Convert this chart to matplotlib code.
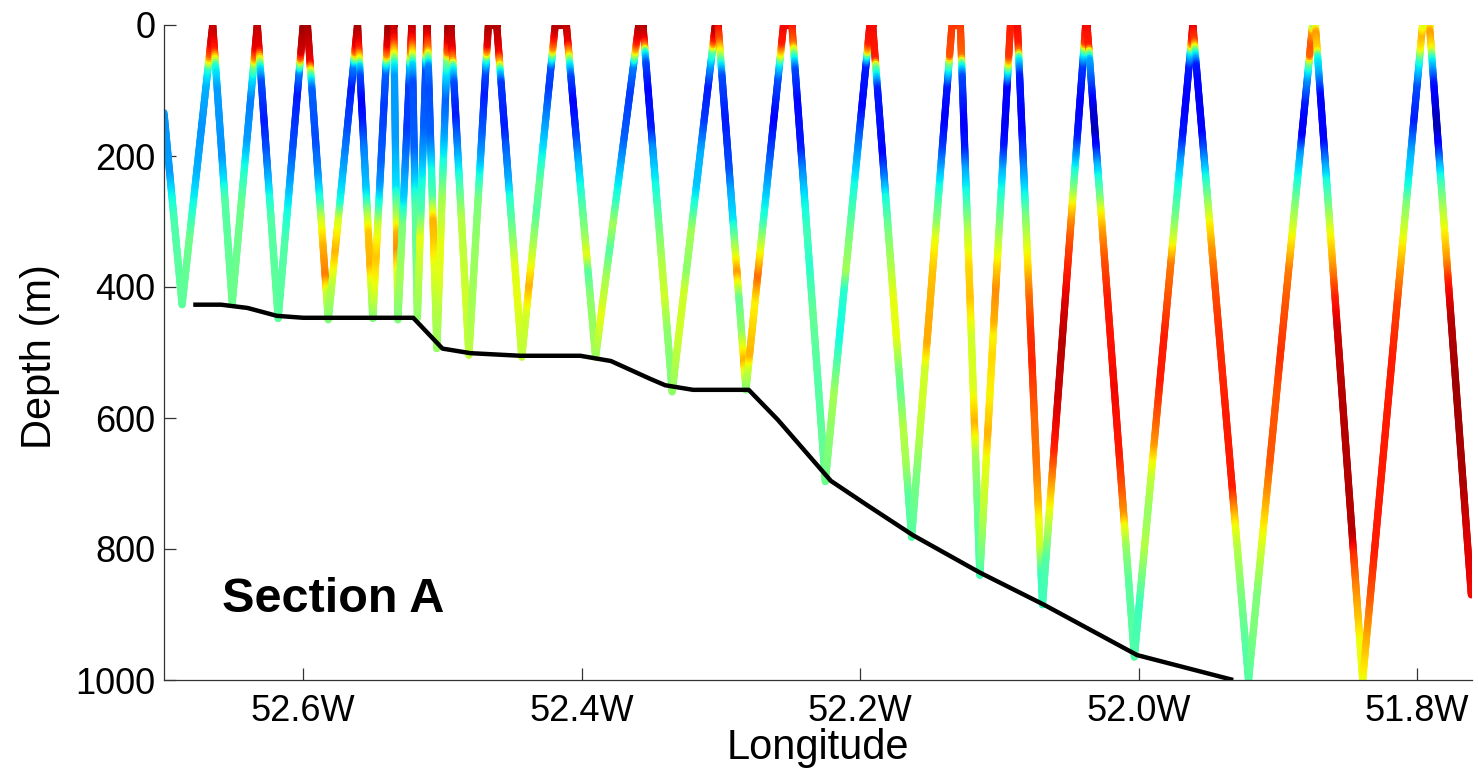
import numpy as np
import matplotlib
matplotlib.use("Agg")
import matplotlib.pyplot as plt
from matplotlib.collections import LineCollection
from matplotlib.colors import Normalize
from matplotlib.patches import Rectangle

# ---------------- data ----------------
# glider path turning points (longitude in degrees east, depth in m)
path_lon = [-52.700, -52.687, -52.665, -52.651, -52.633, -52.618, -52.600, -52.597,
            -52.582, -52.561, -52.550, -52.539, -52.535, -52.532, -52.522, -52.518,
            -52.511, -52.504, -52.496, -52.494, -52.481, -52.467, -52.461, -52.443,
            -52.419, -52.411, -52.390, -52.359, -52.356, -52.335, -52.304, -52.302,
            -52.282, -52.255, -52.249, -52.225, -52.193, -52.191, -52.163, -52.134,
            -52.128, -52.114, -52.092, -52.087, -52.069, -52.038, -52.037, -52.003,
            -51.961, -51.921, -51.875, -51.873, -51.839, -51.796, -51.791, -51.761]
path_depth = [134, 427, 0, 425, 0, 448, 0, 0,
              450, 0, 448, 0, 0, 450, 0, 447,
              0, 494, 0, 0, 504, 0, 0, 507,
              0, 0, 507, 0, 0, 560, 0, 0,
              557, 0, 0, 697, 0, 0, 782, 0,
              0, 840, 0, 0, 885, 0, 0, 965,
              0, 1000, 0, 0, 1000, 0, 0, 870]

# colour-scaled property (normalised 0-1, jet) read along each dive/climb leg:
# list of (depth, value) knots per leg, in path order
leg_knots = [
    [(134, .27), (230, .28), (260, .36), (300, .44), (427, .47)],
    [(0, .95), (30, .9), (45, .8), (55, .6), (65, .38), (90, .3), (150, .27), (220, .3), (270, .38), (320, .48), (427, .46)],
    [(0, .95), (40, .88), (55, .6), (65, .38), (100, .28), (200, .27), (240, .35), (270, .45), (425, .48)],
    [(0, .95), (35, .9), (50, .75), (60, .5), (75, .36), (110, .25), (170, .28), (220, .4), (270, .48), (425, .48)],
    [(0, .95), (40, .9), (55, .6), (65, .37), (90, .2), (150, .15), (190, .2), (235, .3), (265, .38), (300, .45), (448, .47)],
    [(0, .97), (40, .92), (50, .8), (58, .5), (70, .25), (100, .15), (180, .2), (230, .28), (270, .36), (330, .45), (448, .46)],
    [(0, .97), (60, .9), (72, .6), (80, .4), (100, .22), (180, .2), (230, .27), (270, .4), (300, .6), (340, .72), (385, .78), (410, .6), (450, .52)],
    [(0, .95), (30, .9), (40, .8), (50, .45), (60, .25), (90, .15), (150, .2), (220, .3), (265, .38), (290, .6), (340, .72), (390, .58), (450, .5)],
    [(0, .98), (20, .93), (38, .88), (55, .6), (63, .35), (80, .2), (120, .12), (150, .15), (190, .25), (250, .32), (267, .38), (290, .55), (320, .7), (370, .72), (400, .6), (448, .5)],
    [(0, .97), (30, .9), (45, .75), (55, .4), (70, .22), (120, .18), (200, .22), (240, .28), (270, .4), (300, .6), (350, .7), (400, .62), (448, .5)],
    [(0, .96), (25, .88), (45, .65), (60, .38), (80, .28), (180, .28), (250, .35), (270, .45), (295, .57), (320, .72), (345, .76), (380, .62), (450, .5)],
    [(0, .96), (25, .9), (40, .78), (50, .55), (60, .32), (90, .18), (150, .18), (200, .25), (260, .33), (300, .5), (380, .55), (450, .5)],
    [(0, .96), (25, .88), (45, .65), (60, .35), (90, .2), (190, .22), (240, .33), (280, .45), (447, .52)],
    [(0, .97), (25, .9), (40, .75), (50, .4), (65, .2), (150, .22), (200, .3), (230, .37), (280, .45), (320, .63), (370, .58), (447, .52)],
    [(0, .97), (20, .9), (38, .78), (52, .45), (65, .25), (100, .2), (170, .22), (200, .3), (225, .38), (265, .45), (300, .72), (330, .7), (370, .63), (420, .58), (494, .53)],
    [(0, .97), (25, .9), (40, .8), (50, .5), (70, .35), (110, .22), (160, .28), (210, .4), (260, .55), (330, .63), (380, .62), (430, .57), (494, .53)],
    [(0, .97), (40, .9), (55, .75), (65, .4), (90, .2), (140, .15), (190, .27), (230, .38), (260, .47), (300, .57), (420, .6), (504, .58)],
    [(0, .96), (30, .9), (42, .7), (50, .4), (70, .2), (100, .15), (160, .22), (200, .3), (225, .38), (260, .5), (330, .53), (420, .55), (504, .58)],
    [(0, .96), (45, .9), (60, .7), (70, .38), (90, .18), (160, .15), (190, .22), (240, .3), (270, .4), (320, .5), (370, .62), (420, .63), (507, .58)],
    [(0, .95), (20, .88), (35, .75), (48, .4), (63, .2), (90, .18), (140, .27), (190, .36), (240, .48), (280, .45), (340, .58), (395, .72), (440, .6), (507, .58)],
    [(0, .95), (30, .9), (45, .72), (60, .38), (80, .2), (120, .12), (170, .18), (210, .3), (250, .38), (280, .45), (320, .52), (355, .63), (380, .45), (420, .52), (507, .55)],
    [(0, .95), (25, .88), (38, .7), (48, .45), (60, .25), (100, .18), (170, .22), (220, .32), (260, .4), (300, .55), (340, .45), (380, .55), (440, .63), (507, .53)],
    [(0, .97), (25, .9), (35, .75), (42, .4), (60, .2), (100, .13), (160, .15), (190, .27), (250, .38), (300, .47), (370, .57), (420, .6), (470, .52), (560, .5)],
    [(0, .96), (20, .88), (28, .75), (38, .45), (60, .28), (90, .15), (140, .18), (190, .3), (240, .32), (270, .4), (310, .55), (370, .52), (400, .6), (470, .6), (560, .52)],
    [(0, .92), (25, .82), (45, .6), (60, .38), (80, .2), (150, .15), (220, .2), (260, .3), (300, .35), (340, .55), (380, .75), (420, .47), (470, .52), (515, .72), (557, .5)],
    [(0, .9), (25, .88), (45, .62), (55, .38), (80, .2), (140, .12), (190, .2), (240, .3), (290, .4), (340, .63), (380, .8), (420, .65), (475, .7), (500, .72), (520, .6), (557, .5)],
    [(0, .9), (30, .8), (50, .4), (70, .2), (120, .13), (190, .15), (220, .25), (265, .35), (320, .43), (370, .4), (440, .47), (550, .45), (697, .48)],
    [(0, .9), (25, .88), (38, .7), (45, .4), (60, .15), (120, .13), (190, .28), (240, .38), (320, .5), (370, .55), (400, .4), (470, .37), (560, .55), (620, .52), (697, .48)],
    [(0, .9), (55, .88), (65, .5), (75, .38), (100, .15), (200, .13), (235, .25), (265, .38), (320, .5), (370, .56), (420, .63), (480, .63), (530, .5), (560, .47), (620, .57), (670, .55), (720, .46), (782, .45)],
    [(0, .85), (45, .82), (55, .5), (65, .38), (90, .15), (140, .12), (180, .18), (215, .3), (265, .45), (295, .52), (320, .63), (370, .7), (420, .72), (480, .73), (520, .6), (570, .6), (620, .57), (680, .5), (782, .45)],
    [(0, .85), (50, .8), (62, .4), (80, .2), (150, .12), (190, .15), (220, .28), (265, .4), (320, .58), (370, .68), (420, .7), (450, .65), (480, .6), (560, .62), (610, .72), (660, .55), (710, .5), (760, .47), (840, .43)],
    [(0, .88), (45, .85), (55, .7), (68, .38), (90, .12), (140, .1), (180, .15), (215, .3), (265, .43), (320, .56), (370, .7), (400, .76), (450, .72), (470, .65), (500, .68), (560, .65), (620, .72), (660, .63), (710, .6), (760, .55), (840, .43)],
    [(0, .9), (32, .88), (42, .78), (52, .38), (80, .15), (160, .12), (200, .2), (230, .28), (265, .38), (295, .5), (345, .63), (370, .68), (395, .75), (420, .8), (470, .86), (520, .87), (600, .8), (680, .78), (730, .72), (760, .64), (800, .6), (840, .42), (885, .42)],
    [(0, .9), (25, .85), (35, .5), (40, .38), (60, .18), (115, .12), (165, .15), (215, .38), (242, .5), (267, .65), (293, .76), (320, .82), (370, .88), (420, .92), (480, .95), (560, .93), (640, .88), (710, .7), (760, .57), (810, .45), (885, .42)],
    [(0, .9), (35, .88), (43, .55), (53, .3), (90, .2), (130, .08), (165, .05), (190, .15), (215, .3), (240, .4), (265, .5), (290, .65), (320, .75), (360, .82), (420, .88), (560, .9), (660, .88), (710, .82), (750, .75), (765, .65), (800, .53), (850, .46), (965, .45)],
    [(0, .92), (20, .88), (30, .7), (38, .38), (60, .15), (115, .12), (165, .15), (205, .3), (240, .38), (290, .5), (320, .6), (360, .78), (420, .83), (470, .88), (540, .88), (590, .82), (635, .75), (660, .65), (690, .58), (740, .53), (790, .57), (880, .42), (965, .45)],
    [(0, .92), (25, .85), (33, .68), (43, .4), (63, .15), (120, .1), (165, .12), (190, .2), (215, .3), (240, .4), (265, .5), (305, .65), (345, .75), (395, .82), (470, .86), (600, .88), (710, .88), (735, .78), (765, .65), (800, .57), (870, .5), (960, .45), (1000, .45)],
    [(0, .57), (8, .75), (25, .82), (45, .8), (55, .5), (65, .38), (80, .27), (115, .15), (160, .1), (190, .28), (230, .38), (265, .5), (320, .65), (370, .78), (420, .82), (500, .86), (560, .82), (660, .82), (710, .75), (765, .65), (815, .57), (865, .5), (920, .5), (1000, .45)],
    [(0, .55), (13, .75), (40, .68), (50, .38), (75, .3), (110, .12), (180, .13), (215, .28), (240, .38), (265, .45), (318, .63), (370, .75), (420, .88), (470, .93), (560, .95), (780, .95), (815, .85), (865, .76), (910, .7), (940, .64), (1000, .63)],
    [(0, .63), (13, .72), (33, .65), (50, .4), (90, .2), (140, .15), (190, .3), (240, .38), (265, .5), (318, .63), (370, .75), (420, .84), (500, .88), (800, .88), (865, .82), (915, .75), (1000, .63)],
    [(0, .63), (13, .75), (38, .65), (53, .38), (90, .15), (140, .06), (160, .05), (190, .15), (215, .3), (250, .45), (290, .58), (318, .65), (360, .75), (395, .88), (450, .95), (550, .97), (700, .96), (780, .92), (870, .9)],
]

# bathymetry
bathy_lon = [-52.679, -52.659, -52.640, -52.619, -52.600, -52.521, -52.500, -52.480,
             -52.444, -52.401, -52.379, -52.351, -52.340, -52.320, -52.280, -52.259,
             -52.221, -52.195, -52.162, -52.114, -52.068, -52.028, -52.001, -51.932]
bathy_depth = [427, 427, 432, 444, 447, 447, 494, 501,
               505, 505, 513, 540, 550, 557, 557, 603,
               696, 733, 779, 836, 885, 931, 962, 1000]

xticks = [-52.6, -52.4, -52.2, -52.0, -51.8]
xticklabels = ["52.6W", "52.4W", "52.2W", "52.0W", "51.8W"]
yticks = [0, 200, 400, 600, 800, 1000]

# ---------------- figure ----------------
plt.rcParams['font.family'] = ['Liberation Sans', 'DejaVu Sans']
fig = plt.figure(figsize=(14.78, 7.76), dpi=100)
ax = fig.add_axes([164 / 1478, 96 / 776, 1307.7 / 1478, 655 / 776])

segs = []
vals = []
k = 0
last_surface_val = leg_knots[0][0][1]
for i in range(len(path_lon) - 1):
    x0, x1 = path_lon[i], path_lon[i + 1]
    d0, d1 = path_depth[i], path_depth[i + 1]
    if d0 == 0 and d1 == 0:
        segs.append([(x0, 0), (x1, 0)])
        vals.append(last_surface_val)
        continue
    kd = np.array([p[0] for p in leg_knots[k]], float)
    kv = np.array([p[1] for p in leg_knots[k]], float)
    k += 1
    n = max(2, int(abs(d1 - d0) / 3))
    t = np.linspace(0, 1, n + 1)
    xs = x0 + (x1 - x0) * t
    ds = d0 + (d1 - d0) * t
    vs = np.interp(ds, kd, kv)
    for j in range(n):
        segs.append([(xs[j], ds[j]), (xs[j + 1], ds[j + 1])])
        vals.append(0.5 * (vs[j] + vs[j + 1]))
    if d1 == 0:
        last_surface_val = vs[-1]
    else:
        last_surface_val = kv[0]

lc = LineCollection(segs, cmap='jet', norm=Normalize(0, 1), linewidths=5.2,
                    capstyle='round', joinstyle='round', zorder=2)
lc.set_array(np.array(vals))
clip_rect = Rectangle((0, 0), 1, 1.03, transform=ax.transAxes, facecolor='none', edgecolor='none')
fig.add_artist(clip_rect)
lc.set_clip_path(clip_rect)
ax.add_collection(lc)

ax.plot(bathy_lon, bathy_depth, color='black', lw=3.2, zorder=3, solid_capstyle='butt')

ax.set_xlim(-52.700, -51.7607)
ax.set_ylim(1000, 0)
ax.set_xticks(xticks)
ax.set_xticklabels(xticklabels)
ax.set_yticks(yticks)
for s in ['top', 'right']:
    ax.spines[s].set_visible(False)
for s in ['left', 'bottom']:
    ax.spines[s].set_color('#333333')
    ax.spines[s].set_linewidth(0.9)
ax.tick_params(direction='in', length=8.5, width=0.9, color='#333333', labelsize=26)
ax.tick_params(axis='x', pad=10)
ax.tick_params(axis='y', pad=6)

ax.set_xlabel('Longitude', fontsize=30)
ax.set_ylabel('Depth (m)', fontsize=30)
ax.xaxis.set_label_coords(0.5, -0.074)
ax.yaxis.set_label_coords(-0.0795, 0.494)

ax.text(-52.658, 896, 'Section A', fontsize=35, fontweight='bold', ha='left', va='baseline')

fig.savefig('out.png', dpi=100, facecolor='white')
